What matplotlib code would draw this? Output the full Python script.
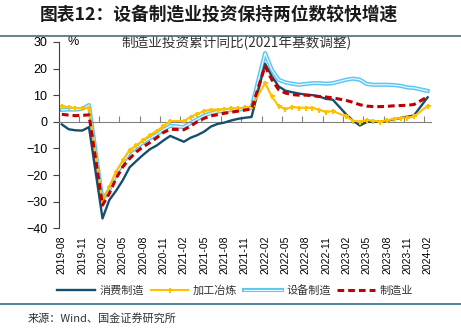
import matplotlib.pyplot as plt
import matplotlib.patheffects as pe
from matplotlib.lines import Line2D

plt.rcParams['font.family'] = ['Liberation Sans', 'Noto Sans CJK SC']
CJK = ['Noto Sans CJK SC', 'DejaVu Sans']

# months with data (January is not published for cumulative data)
months = ([f'2019-{m:02d}' for m in range(8, 13)]
          + [f'{y}-{m:02d}' for y in range(2020, 2024) for m in range(2, 13)]
          + ['2024-02'])

# cumulative y/y growth, %
consumer = [-1.0, -2.8, -3.2, -3.3, -2.0,                                   # 2019
            -36.3, -29.4, -25.9, -21.9, -17.1, -14.7, -12.4, -10.3, -8.9, -7.0, -5.3,  # 2020
            -7.5, -6.0, -5.0, -3.7, -1.8, -0.8, -0.3, 0.5, 1.1, 1.5, 1.8,    # 2021
            21.8, 17.1, 13.3, 11.7, 11.1, 10.6, 10.2, 10.0, 9.5, 8.6, 8.3,   # 2022
            2.7, 0.4, -1.4, -0.1, 0.1, 0.1, 0.4, 0.9, 1.4, 1.9, 2.4,         # 2023
            9.2]                                                             # 2024
processing = [6.0, 5.4, 5.2, 5.1, 5.3,
              -30.1, -24.4, -18.8, -14.4, -10.6, -8.8, -6.9, -5.0, -3.4, -1.6, 0.3,
              0.3, 1.8, 3.0, 4.0, 4.6, 4.6, 4.8, 5.0, 5.0, 5.4, 5.8,
              14.5, 9.5, 5.8, 4.9, 5.5, 5.3, 5.3, 5.3, 4.4, 3.8, 4.0,
              2.0, 0.4, 0.1, 0.6, 0.4, 0.1, 0.6, 1.0, 1.4, 1.6, 2.0,
              6.0]
equipment = [4.5, 4.6, 4.6, 4.8, 6.3,
             -29.5, -25.5, -19.8, -15.5, -11.5, -9.6, -7.8, -6.2, -4.8, -3.0, -1.5,
             -2.0, -0.5, 1.0, 2.3, 3.3, 3.8, 4.2, 4.4, 4.6, 4.8, 5.3,
             25.8, 19.5, 15.8, 14.8, 14.3, 13.9, 14.2, 14.5, 14.5, 14.3, 14.5,
             15.8, 16.2, 15.8, 14.2, 13.9, 13.9, 13.9, 13.8, 13.5, 12.9, 12.7,
             11.6]
manufacturing = [2.8, 2.5, 2.3, 2.4, 2.6,
                 -31.3, -26.9, -21.3, -16.9, -13.8, -11.3, -9.4, -7.8, -6.0, -4.0, -2.8,
                 -3.0, -1.6, 0.0, 1.3, 2.2, 2.7, 3.2, 3.6, 4.0, 4.4, 4.8,
                 20.9, 15.8, 12.1, 10.8, 10.2, 10.0, 10.0, 9.8, 9.5, 9.3, 9.0,
                 8.0, 7.3, 6.4, 5.9, 5.7, 5.7, 5.8, 6.0, 6.1, 6.2, 6.5,
                 9.4]

tick_labels = ['2019-08', '2019-11', '2020-02', '2020-05', '2020-08', '2020-11',
               '2021-02', '2021-05', '2021-08', '2021-11', '2022-02', '2022-05',
               '2022-08', '2022-11', '2023-02', '2023-05', '2023-08', '2023-11',
               '2024-02']

def month_index(s):
    return (int(s[:4]) - 2019) * 12 + int(s[5:7]) - 8

x = [month_index(s) for s in months]
label_pos = [month_index(s) for s in tick_labels]

fig = plt.figure(figsize=(4.61, 3.35), dpi=100)
ax = fig.add_axes([58.5 / 461, 1 - 228.3 / 335, 372.5 / 461, 186.4 / 335])

l_eq, = ax.plot(x, equipment, color='#e6f7fd', lw=0.9, zorder=2,
                path_effects=[pe.Stroke(linewidth=3.0, foreground='#5cc6f2'), pe.Normal()])
l_con, = ax.plot(x, consumer, color='#154e6e', lw=1.7, zorder=3)
l_pro, = ax.plot(x, processing, color='#ffc000', lw=1.5, marker='P', ms=3.6,
                 mew=0, zorder=4)
l_man, = ax.plot(x, manufacturing, color='#c00000', lw=2.2, dashes=(2.2, 1.3), zorder=5)

ax.set_xlim(-0.5, 54.5)
ax.set_ylim(-40, 30)
ax.set_yticks(range(-40, 31, 10))
ax.tick_params(axis='y', direction='out', length=4, width=0.8, pad=4,
               labelsize=9, color='#404040')
ax.spines['left'].set_color('#404040')
ax.spines['top'].set_visible(False)
ax.spines['right'].set_visible(False)

# horizontal axis crosses at 0, tick marks between categories
ax.spines['bottom'].set_position(('data', 0))
ax.spines['bottom'].set_color('#808080')
ax.set_xticks([p - 0.5 for p in label_pos])
ax.tick_params(axis='x', direction='in', length=4, width=0.8, color='#808080',
               labelbottom=False)

sec = ax.secondary_xaxis('bottom')
sec.set_xticks(label_pos, tick_labels)
sec.tick_params(length=0, pad=5.5, labelsize=7.5, rotation=90)
sec.spines['bottom'].set_visible(False)

ax.text(0.025, 1.0, '%', transform=ax.transAxes, fontsize=9, ha='left', va='center')
ax.text(0.4765, 0.994, '制造业投资累计同比(2021年基数调整)', transform=ax.transAxes,
        fontsize=9.8, ha='center', va='center', color='#333333', family=CJK)

fig.legend([l_con, l_pro, l_eq, l_man], ['消费制造', '加工冶炼', '设备制造', '制造业'],
           loc='center', bbox_to_anchor=(0.51, 1 - 290 / 335), ncol=4, frameon=False,
           prop={'family': CJK, 'size': 8}, handlelength=3.4, handletextpad=0.4,
           columnspacing=0.6, labelcolor='#333333')

fig.text(40 / 461, 1 - 15 / 335, '图表12：设备制造业投资保持两位数较快增速',
         fontsize=12.8, fontweight='bold', fontstyle='italic', family=CJK,
         ha='left', va='center', color='#1a1a1a')
fig.add_artist(Line2D([0, 1], [1 - 35.5 / 335] * 2, color='#4f6b7a', lw=1.2))
fig.add_artist(Line2D([0, 1], [1 - 304 / 335] * 2, color='#2f6e8c', lw=1.2))
fig.text(28 / 461, 1 - 318 / 335, '来源：Wind、国金证券研究所', fontsize=8,
         family=CJK, ha='left', va='center', color='#333333')

fig.savefig('out.png', dpi=100)
